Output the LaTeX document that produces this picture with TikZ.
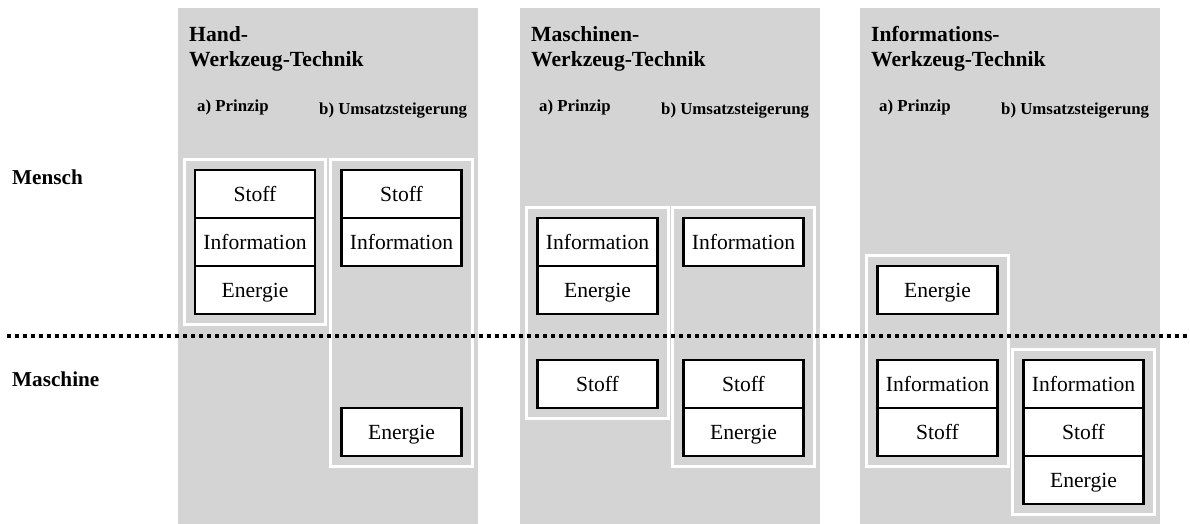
\documentclass[tikz,border=0pt]{standalone}
\usepackage{fontspec}
\setmainfont{Liberation Serif}
\usetikzlibrary{fit}
\definecolor{panelgray}{RGB}{212,212,212}
\begin{document}
\begin{tikzpicture}[x=1pt,y=-1pt,
  panel/.style={fill=panelgray,draw=none},
  frame/.style={draw=white,line width=3pt,inner sep=9.5pt},
  cell/.style={draw=black,fill=white,line width=2.5pt,minimum width=120pt,minimum height=48pt,inner sep=0pt,text height=15pt,text depth=0pt,font=\fontsize{21.6}{26}\selectfont},
  title/.style={anchor=base west,inner sep=0pt,font=\fontsize{21.6}{26}\selectfont\bfseries},
  sub/.style={anchor=base west,inner sep=0pt,font=\fontsize{16.8}{20}\selectfont\bfseries},
  rowlabel/.style={anchor=base west,inner sep=0pt,font=\fontsize{21.2}{25}\selectfont\bfseries},
  sep/.style={line width=3.5pt,dash pattern=on 4pt off 4pt}
]
\useasboundingbox (0,0) rectangle (1190,524);
% panels
\fill[panel] (178,8) rectangle (478,524);
\fill[panel] (520,8) rectangle (820,524);
\fill[panel] (860,8) rectangle (1160,524);
% titles
\node[title] (t1a) at (189,42) {Hand-};
\node[title] (t1b) at (189,67) {Werkzeug-Technik};
\node[title] (t2a) at (531,42) {Maschinen-};
\node[title] (t2b) at (531,67) {Werkzeug-Technik};
\node[title] (t3a) at (871,42) {Informations-};
\node[title] (t3b) at (871,67) {Werkzeug-Technik};
\node[sub] (s1a) at (197,111) {a) Prinzip};
\node[sub] (s1b) at (319,114) {b) Umsatzsteigerung};
\node[sub] (s2a) at (539,111) {a) Prinzip};
\node[sub] (s2b) at (661,114) {b) Umsatzsteigerung};
\node[sub] (s3a) at (879,111) {a) Prinzip};
\node[sub] (s3b) at (1001,114) {b) Umsatzsteigerung};
% row labels
\node[rowlabel] (mensch) at (12,184) {Mensch};
\node[rowlabel] (maschine) at (12,386.5) {Maschine};
% panel 1
\node[cell] (p1a1) at (255,194) {Stoff};
\node[cell] (p1a2) at (255,242) {Information};
\node[cell] (p1a3) at (255,290) {Energie};
\node[cell] (p1b1) at (401.5,194) {Stoff};
\node[cell] (p1b2) at (401.5,242) {Information};
\node[cell] (p1b3) at (401.5,432) {Energie};
% panel 2
\node[cell] (p2a1) at (597.5,242) {Information};
\node[cell] (p2a2) at (597.5,290) {Energie};
\node[cell] (p2a3) at (597.5,384) {Stoff};
\node[cell] (p2b1) at (743.5,242) {Information};
\node[cell] (p2b2) at (743.5,384) {Stoff};
\node[cell] (p2b3) at (743.5,432) {Energie};
% panel 3
\node[cell] (p3a1) at (937.5,290) {Energie};
\node[cell] (p3a2) at (937.5,384) {Information};
\node[cell] (p3a3) at (937.5,432) {Stoff};
\node[cell] (p3b1) at (1083.5,384) {Information};
\node[cell] (p3b2) at (1083.5,432) {Stoff};
\node[cell] (p3b3) at (1083.5,480) {Energie};
% frames
\node[frame,fit=(p1a1)(p1a3)] (f1a) {};
\node[frame,fit=(p1b1)(p1b3)] (f1b) {};
\node[frame,fit=(p2a1)(p2a3)] (f2a) {};
\node[frame,fit=(p2b1)(p2b3)] (f2b) {};
\node[frame,fit=(p3a1)(p3a3)] (f3a) {};
\node[frame,fit=(p3b1)(p3b3)] (f3b) {};
% separator
\coordinate (sepL) at (7,336);
\coordinate (sepR) at (1190,336);
\draw[sep] (sepL) -- (sepR);
\end{tikzpicture}
\end{document}
